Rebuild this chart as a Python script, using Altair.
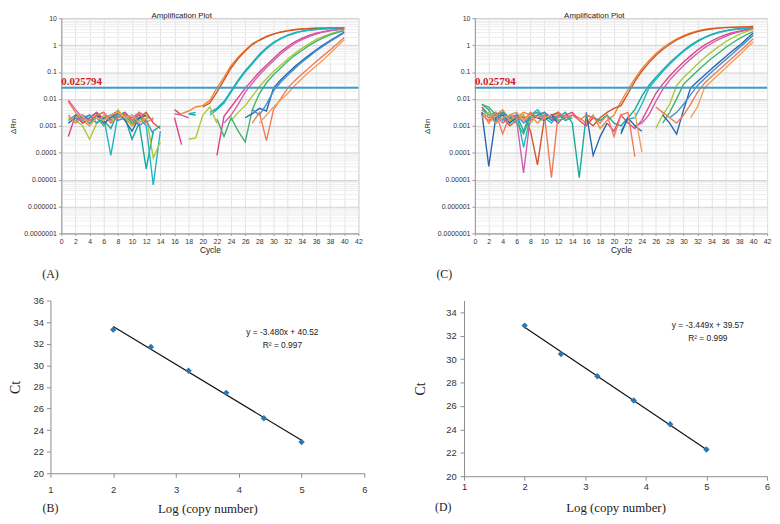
import altair as alt
import pandas as pd

CYCLES = list(range(1, 41))
THRESHOLD = 0.025794

# ---- Panel (A): log10(ΔRn) per cycle 1..40 (None = not drawn) ----
a01 = [-2.1,-2.5,-2.8,-3.0,-2.6,-2.7,-2.8,-2.5,-2.6,-2.9,-2.55,-2.8,None,None,None,None,-2.55,-2.45,-2.3,-2.25,-2.05,-1.6,-1.2,-0.75,-0.45,-0.18,0.05,0.2,0.33,0.42,0.49,0.54,0.58,0.6,0.62,0.63,0.635,0.64,0.64,0.645]
a02 = [None,-2.6,-2.9,-2.7,-2.5,-2.75,-2.6,-2.45,-2.7,-3.0,-2.7,-2.5,-2.9,-3.1,None,-2.4,-2.6,None,None,-2.3,-2.15,-1.75,-1.3,-0.85,-0.5,-0.22,0.02,0.18,0.31,0.41,0.48,0.53,0.57,0.6,0.615,0.625,0.63,0.635,0.64,0.64]
a03 = [-2.8,-2.6,-2.7,-2.9,-2.6,-2.8,-3.1,-2.5,-2.7,-3.5,-2.9,-4.6,-3.2,-3.0,None,None,None,-2.55,-2.6,None,-2.5,-2.35,-2.1,-1.7,-1.3,-0.95,-0.65,-0.35,-0.1,0.1,0.25,0.37,0.46,0.52,0.56,0.59,0.61,0.62,0.63,0.64]
a04 = [None,-2.7,-2.8,-2.6,-2.9,-2.7,-4.1,-2.6,-2.5,-2.8,-2.7,-3.0,-5.2,-3.2,None,None,None,-2.55,-2.5,None,-2.6,-2.4,-2.15,-1.75,-1.35,-1.0,-0.7,-0.4,-0.14,0.07,0.23,0.35,0.44,0.51,0.55,0.58,0.6,0.62,0.63,0.64]
a05 = [-3.4,-2.6,-2.9,-2.7,-2.5,-2.8,-2.6,-2.7,-2.5,-2.8,-2.6,-2.9,None,None,None,-2.7,-3.7,None,None,None,None,-4.1,-2.65,-2.3,-1.95,-1.6,-1.3,-1.0,-0.75,-0.5,-0.25,-0.05,0.12,0.25,0.36,0.44,0.5,0.55,0.58,0.61]
a06 = [-2.05,-2.4,-2.7,None,-2.6,-2.5,-2.8,-2.55,-2.6,-2.7,-2.5,-2.65,-2.8,None,None,-2.55,-2.6,-2.7,None,None,None,None,-2.9,-2.6,-2.2,-1.75,-1.42,-1.1,-0.83,-0.58,-0.33,-0.12,0.06,0.2,0.32,0.41,0.48,0.53,0.57,0.6]
a07 = [-2.7,-2.8,-3.0,-3.5,-2.9,-2.6,-2.9,-2.4,-2.7,-3.0,-2.8,-2.6,-4.2,-3.6,None,None,None,-3.5,-3.45,-2.6,-2.3,-2.9,None,-2.8,-2.5,-2.25,-1.9,-1.55,-1.25,-0.98,-0.75,-0.52,-0.3,-0.12,0.05,0.2,0.32,0.42,0.5,0.56]
a08 = [None,-2.7,-2.6,-2.8,-2.7,-3.0,-2.6,-2.7,-2.6,-2.9,-2.7,-2.8,None,None,None,None,None,None,None,None,None,-2.75,-3.4,-2.7,-3.2,-3.6,-2.4,-1.8,-1.4,-1.1,-0.85,-0.6,-0.38,-0.2,-0.02,0.14,0.27,0.38,0.47,0.54]
a09 = [-2.9,-2.7,-2.6,-2.8,-2.6,-2.9,-2.7,-2.5,-2.8,-3.2,-2.7,-2.6,None,None,None,None,None,None,None,None,None,None,None,None,None,-2.7,-2.55,-2.35,-2.45,-1.6,-1.3,-1.05,-0.8,-0.58,-0.38,-0.18,0.0,0.17,0.33,0.48]
a10 = [None,-2.8,-2.7,-2.6,-2.9,-2.7,-2.6,-2.8,-2.7,-2.6,-3.0,-2.8,-3.3,None,None,None,None,None,None,None,None,None,None,None,None,None,-2.4,-2.6,-2.2,-1.7,-1.38,-1.12,-0.87,-0.64,-0.43,-0.22,-0.04,0.14,0.3,0.46]
a11 = [-2.6,-2.9,-2.7,-2.8,-2.6,-2.5,-2.9,-2.7,-2.6,-2.8,-2.5,-2.9,-2.7,None,None,None,None,None,None,None,None,None,None,None,None,None,-2.9,-2.5,-3.55,-2.4,-2.0,-1.6,-1.32,-1.08,-0.85,-0.62,-0.4,-0.18,0.05,0.28]
a12 = [None,-2.7,-2.6,-3.0,-2.7,-2.8,-2.6,-2.5,-2.7,-2.6,-2.9,-2.7,None,None,None,None,None,None,None,None,None,None,None,None,None,None,None,-2.9,-2.6,-2.3,-2.05,-1.8,-1.5,-1.25,-1.0,-0.78,-0.55,-0.3,-0.05,0.2]
A_CURVES = [a01, a02, a03, a04, a05, a06, a07, a08, a09, a10, a11, a12]
A_COLORS = ["#ee8a2f", "#d2552c", "#14a99a", "#22b3c6", "#e0408a", "#d060ad",
            "#a9c83d", "#3bb56c", "#2767b0", "#3d8fd1", "#ef7a5a", "#f2a05a"]

# ---- Panel (C) ----
c01 = [-2.5,-2.9,-2.6,-2.4,-2.8,-2.7,-2.5,-2.6,-2.9,-2.6,-2.7,-2.5,-2.8,-2.6,-2.7,-2.9,-2.6,-3.1,-2.8,-2.6,-2.1,-1.65,-1.25,-0.88,-0.58,-0.32,-0.1,0.08,0.23,0.35,0.45,0.53,0.58,0.62,0.64,0.66,0.67,0.68,0.68,0.69]
c02 = [-2.3,-2.6,-2.9,-2.7,-3.0,-2.8,-2.6,-3.2,-4.45,-2.7,-2.6,-2.5,-2.7,-2.6,None,-2.8,-3.0,-2.7,-2.5,-2.35,-2.25,-1.8,-1.35,-0.97,-0.66,-0.39,-0.16,0.03,0.19,0.32,0.42,0.5,0.56,0.6,0.63,0.65,0.66,0.67,0.68,0.69]
c03 = [-2.2,-2.4,-2.9,-2.5,-2.7,-2.6,-3.2,-2.5,-2.7,-2.6,-2.8,-2.7,-2.5,-2.9,-4.93,-2.6,-2.7,-2.8,-2.6,-2.9,-3.0,-2.7,-2.4,-1.9,-1.5,-1.2,-0.92,-0.66,-0.42,-0.2,0.0,0.16,0.29,0.4,0.48,0.54,0.58,0.61,0.63,0.65]
c04 = [-2.4,-2.6,-2.5,-2.8,-2.6,-2.5,-3.8,-2.6,-2.4,-2.7,-2.9,-2.6,-2.8,-2.7,None,None,None,None,None,None,-3.2,-2.75,-2.7,-2.2,-1.6,-1.28,-0.98,-0.71,-0.46,-0.24,-0.04,0.13,0.27,0.38,0.46,0.52,0.57,0.6,0.62,0.64]
c05 = [None,-2.8,-2.6,-2.5,-2.9,-2.6,-2.7,-2.8,-2.6,-2.5,-2.7,-2.9,-2.6,-2.5,-2.8,-3.0,-2.7,None,-2.9,-3.2,-2.6,-2.9,-3.1,-2.8,-2.3,-1.8,-1.45,-1.15,-0.88,-0.63,-0.4,-0.18,0.0,0.15,0.28,0.38,0.46,0.52,0.57,0.61]
c06 = [-2.5,-2.7,-2.6,-2.9,-2.7,-2.8,-4.75,-2.6,-2.5,-2.8,-2.6,-2.7,None,None,None,None,None,None,None,None,None,None,-3.0,-2.9,-2.6,-2.1,-1.65,-1.3,-1.02,-0.76,-0.52,-0.3,-0.1,0.06,0.2,0.32,0.42,0.49,0.55,0.6]
c07 = [-2.6,-2.5,-2.7,-2.6,-2.8,-2.7,-2.6,-2.9,-2.6,-2.7,None,None,None,None,None,None,None,None,None,None,None,None,None,None,None,-3.1,-2.6,-2.2,-1.5,-1.2,-0.95,-0.7,-0.47,-0.26,-0.06,0.12,0.27,0.4,0.5,0.58]
c08 = [-2.2,-2.3,-2.6,-2.5,-2.7,-2.9,-3.3,-2.6,-2.5,-2.7,-2.6,-2.8,-2.7,-2.6,None,None,None,None,None,None,None,None,None,None,None,None,-2.9,-2.5,-2.0,-1.45,-1.2,-0.95,-0.72,-0.5,-0.3,-0.1,0.08,0.24,0.38,0.5]
c09 = [-2.5,-4.51,-2.7,-2.6,-2.9,-2.7,-2.8,-2.6,-2.7,-2.8,-2.6,-2.9,None,None,None,-2.5,-4.1,-3.4,-2.9,None,-3.3,-2.7,-3.0,-3.2,None,None,-2.6,-2.9,-3.31,-2.4,-1.6,-1.35,-1.12,-0.89,-0.66,-0.44,-0.22,-0.02,0.22,0.45]
c10 = [None,-2.6,-2.8,-2.5,-2.7,-2.6,-2.9,-2.7,-2.6,-2.5,-2.8,-2.6,-2.7,None,None,None,None,None,None,None,None,None,None,None,None,None,None,-2.7,-2.5,-2.2,-1.85,-1.5,-1.25,-1.01,-0.78,-0.55,-0.33,-0.1,0.13,0.37]
c11 = [-2.6,-2.8,-2.5,-3.3,-2.6,-2.7,-2.8,-2.5,-2.7,-2.6,-4.93,-2.5,-2.7,-2.6,-2.8,-2.6,-2.7,-2.9,-2.6,-3.4,-2.6,-2.5,-4.15,None,None,-2.3,-2.5,-2.7,-2.9,-2.6,-2.2,-1.75,-1.42,-1.18,-0.94,-0.71,-0.48,-0.25,-0.01,0.24]
c12 = [-2.7,-2.6,-2.9,-2.7,-2.6,-2.5,-2.8,-2.6,-2.9,-2.7,-2.6,None,None,None,None,None,None,None,None,None,None,None,-2.5,-3.97,None,None,None,None,None,None,-2.7,-2.3,-1.59,-1.34,-1.1,-0.86,-0.62,-0.38,-0.13,0.12]
C_CURVES = [c01, c02, c03, c04, c05, c06, c07, c08, c09, c10, c11, c12]
C_COLORS = ["#d08c2a", "#b9c23b", "#17a7a6", "#2bb7d2", "#e63c58", "#d8489a",
            "#3cae4c", "#2aa98a", "#5a4a9c", "#7d82c8", "#f07f3e", "#f3a86f"]

# ---- Standard curves (B) and (D) ----
LOG_COPY = [2, 2.6, 3.2, 3.8, 4.4, 5]
CT_B = [33.3, 31.7, 29.5, 27.45, 25.1, 22.9]
CT_D = [32.86, 30.44, 28.54, 26.46, 24.44, 22.28]
EQ_B = ["y = -3.480x + 40.52", "R² = 0.997"]
EQ_D = ["y = -3.449x + 39.57", "R² = 0.999"]

X_TICKS_CYCLE = list(range(0, 43, 2))
Y_TICKS_DRN = [float(f"{m}e{k}") for k in range(-7, 1) for m in range(1, 10)] + [10.0]

IS_DEC = "abs(log(datum.value)/LN10 - round(log(datum.value)/LN10)) < 0.001"
SANS = "Liberation Sans"
SERIF = "Liberation Serif"


def amp_frame(curves):
    rows = []
    for k, vals in enumerate(curves):
        for c, v in zip(CYCLES, vals):
            rows.append({"cycle": c, "drn": (10 ** v) if v is not None else None,
                         "curve": f"k{k:02d}"})
    return pd.DataFrame(rows)


def amp_panel(curves, colors, w, h, tag, tag_x, title_x):
    df = amp_frame(curves)
    ids = [f"k{k:02d}" for k in range(len(curves))]
    xs = alt.Scale(domain=[0, 42], nice=False, zero=False)
    ys = alt.Scale(type="log", domain=[1e-7, 10], nice=False)
    xaxis = alt.Axis(values=X_TICKS_CYCLE, tickCount=100, format="d", grid=True,
                     gridColor="#e2e2e2", tickSize=2,
                     tickColor="#999", domainColor="#999", labelFontSize=7, labelColor="#333",
                     labelFont=SANS, labelPadding=2, labelFlush=False, labelOverlap=False,
                     title="Cycle", titleFont=SANS, titleFontSize=8.5, titleFontWeight="normal",
                     titleColor="#222", titleY=16, titleBaseline="middle")
    yaxis = alt.Axis(values=Y_TICKS_DRN, tickCount=500,
                     labelExpr=f"{IS_DEC} ? format(datum.value, '.7~f') : ''",
                     grid=True,
                     gridColor={"condition": {"test": IS_DEC, "value": "#d2d2d2"}, "value": "#ededed"},
                     tickSize=3,
                     tickOpacity={"condition": {"test": IS_DEC, "value": 1}, "value": 0},
                     tickColor="#999", domainColor="#999", labelFontSize=7, labelColor="#333",
                     labelFont=SANS, labelPadding=2, labelFlush=False, labelOverlap=False,
                     title="ΔRn", titleFont=SANS, titleFontSize=8, titleFontWeight="normal",
                     titleColor="#222", titleAngle=270, titleX=-44, titleY=h / 2,
                     titleBaseline="bottom")
    lines = alt.Chart(df).mark_line(strokeWidth=1.4, invalid="break-paths-filter-domains").encode(
        x=alt.X("cycle:Q", scale=xs, axis=xaxis),
        y=alt.Y("drn:Q", scale=ys, axis=yaxis),
        color=alt.Color("curve:N", scale=alt.Scale(domain=ids, range=colors), legend=None),
    )
    thr = pd.DataFrame({"cycle": [0], "drn": [THRESHOLD], "label": [f"{THRESHOLD}"]})
    rule = alt.Chart(thr).mark_rule(color="#3f9dc5", strokeWidth=2).encode(y=alt.Y("drn:Q"))
    thr_text = alt.Chart(thr).mark_text(align="left", baseline="bottom", dy=-1, font=SERIF,
                                        fontSize=11, fontWeight="bold", color="#cc1f2b").encode(
        x=alt.X("cycle:Q"), y=alt.Y("drn:Q"), text="label:N")
    one = pd.DataFrame({"t": ["Amplification Plot"], "tag": [tag]})
    title = alt.Chart(one).mark_text(font=SANS, fontSize=8, color="#222", baseline="middle").encode(
        x=alt.value(title_x), y=alt.value(-2), text="t:N")
    tagm = alt.Chart(one).mark_text(font=SERIF, fontSize=12, color="#222", baseline="middle").encode(
        x=alt.value(tag_x), y=alt.value(259), text="tag:N")
    return alt.layer(lines, rule, thr_text, title, tagm).properties(
        width=w, height=h, view=alt.ViewBackground(stroke="#c8c8c8", strokeWidth=1))


def std_panel(ct, eq, w, h, xrange, yoff, ydom, yvals, tag, tag_x, tag_y, eq_x, eq_y, ytitle_x,
              xlabel_pad, xtitle_y, ylabel_pad):
    df = pd.DataFrame({"logc": LOG_COPY, "ct": ct})
    xaxis = alt.Axis(values=[1, 2, 3, 4, 5, 6], tickCount=50, format="d", grid=False,
                     tickSize=4, tickColor="#8c8c8c",
                     domainColor="#8c8c8c", labelFont=SANS, labelFontSize=9.5, labelColor="#333",
                     labelPadding=xlabel_pad, labelFlush=False, labelOverlap=False,
                     title="Log (copy number)", titleFont=SERIF, titleFontSize=13,
                     titleFontWeight="normal", titleColor="#222", titleY=xtitle_y,
                     titleBaseline="middle")
    yaxis = alt.Axis(values=yvals, tickCount=50, format="d", grid=False, tickSize=4,
                     offset=yoff, tickColor="#8c8c8c",
                     domainColor="#8c8c8c", labelFont=SANS, labelFontSize=9.5, labelColor="#333",
                     labelPadding=ylabel_pad, labelFlush=False, labelOverlap=False,
                     title="Ct", titleFont=SERIF, titleFontSize=14, titleFontWeight="normal",
                     titleColor="#222", titleAngle=270, titleX=ytitle_x, titleY=h / 2,
                     titleBaseline="bottom")
    xs = alt.Scale(domain=[1, 6], range=xrange, nice=False, zero=False)
    ys = alt.Scale(domain=ydom, nice=False, zero=False)
    fit = alt.Chart(df).transform_regression("logc", "ct").mark_line(
        color="#111", strokeWidth=1.2).encode(
        x=alt.X("logc:Q", scale=xs, axis=xaxis), y=alt.Y("ct:Q", scale=ys, axis=yaxis))
    pts = alt.Chart(df).mark_point(shape="diamond", filled=True, size=42, color="#2878b4",
                                   opacity=1).encode(x="logc:Q", y="ct:Q")
    txt = pd.DataFrame({"eq": [eq[0]], "r2": [eq[1]], "tag": [tag]})
    eq1 = alt.Chart(txt).mark_text(font=SANS, fontSize=8.5, color="#222", baseline="middle").encode(
        x=alt.value(eq_x), y=alt.value(eq_y), text="eq:N")
    eq2 = alt.Chart(txt).mark_text(font=SANS, fontSize=8.5, color="#222", baseline="middle").encode(
        x=alt.value(eq_x), y=alt.value(eq_y + 13.5), text="r2:N")
    tagm = alt.Chart(txt).mark_text(font=SERIF, fontSize=12, color="#222", baseline="middle").encode(
        x=alt.value(tag_x), y=alt.value(tag_y), text="tag:N")
    return alt.layer(fit, pts, eq1, eq2, tagm).properties(
        width=w, height=h, view=alt.ViewBackground(stroke="transparent"))


pA = amp_panel(A_CURVES, A_COLORS, 301, 218, "(A)", -11, 122)
pC = amp_panel(C_CURVES, C_COLORS, 296, 218, "(C)", -31, 121)
pB = std_panel(CT_B, EQ_B, 307, 175, [-11, 307], 11, [20, 36], list(range(20, 37, 2)),
               "(B)", -11, 210, 224, 32, -28, 8, 36, 3)
pD = std_panel(CT_D, EQ_D, 307, 178, [0, 307], 0, [20, 35], list(range(20, 35, 2)),
               "(D)", -21, 209, 247, 25, -37, 1, 32, 4)

top = alt.hconcat(pA, pC, spacing=60)
bottom = alt.hconcat(pB, pD, spacing=37)
chart = alt.ConcatChart(concat=[top, bottom], columns=1, align="none", spacing=14).properties(
    padding=0).configure(font=SANS).configure_view(strokeWidth=1)

chart.save("out.html", embed_options={"renderer": "svg", "actions": False})
